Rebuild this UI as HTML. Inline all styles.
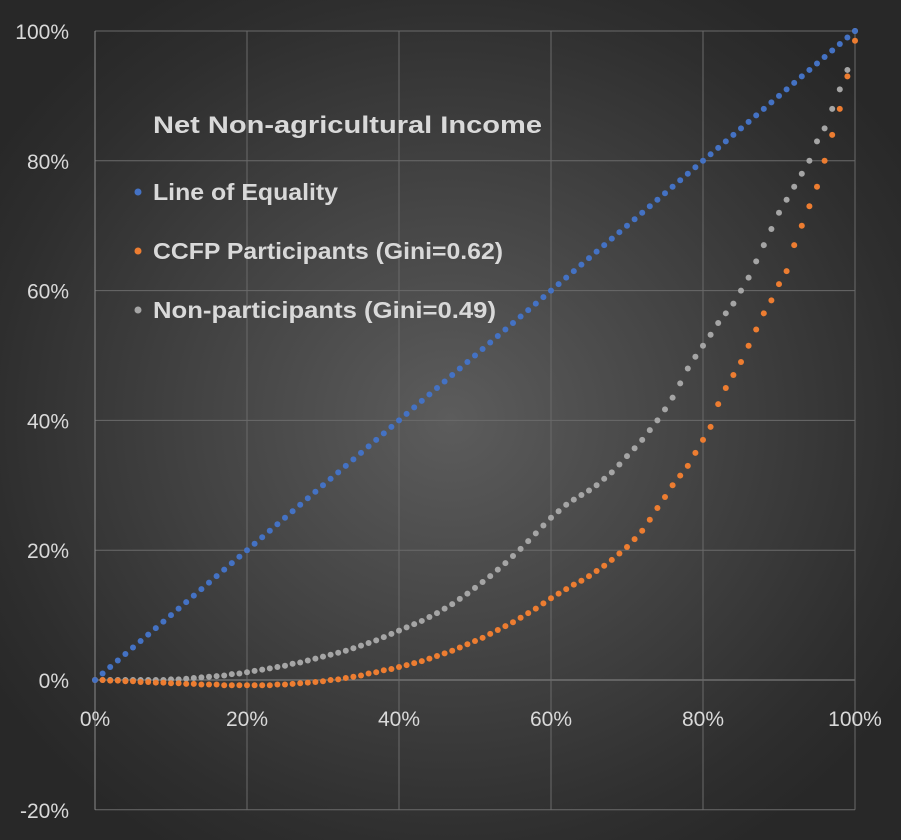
<!DOCTYPE html>
<html><head><meta charset="utf-8">
<style>
html,body{margin:0;padding:0;background:#2b2b2b;}
#wrap{width:901px;height:840px;position:relative;overflow:hidden;
background:radial-gradient(ellipse 60% 60% at 50% 50%,#5c5c5c 0%,#444 45%,#2e2e2e 85%,#282828 100%);}
svg{position:absolute;left:0;top:0;}
text{font-family:"Liberation Sans",sans-serif;fill:#d9d9d9;}
</style></head>
<body>
<div id="wrap">
<svg id="chart" width="901" height="840"></svg>
</div>
<script>
const xTicks=[0,20,40,60,80,100];
const xTickLabels=["0%","20%","40%","60%","80%","100%"];
const yTicks=[-20,0,20,40,60,80,100];
const yTickLabels=["-20%","0%","20%","40%","60%","80%","100%"];
const seriesNames=["Line of Equality","CCFP Participants (Gini=0.62)","Non-participants (Gini=0.49)"];
const eqX=[0,1,2,3,4,5,6,7,8,9,10,11,12,13,14,15,16,17,18,19,20,21,22,23,24,25,26,27,28,29,30,31,32,33,34,35,36,37,38,39,40,41,42,43,44,45,46,47,48,49,50,51,52,53,54,55,56,57,58,59,60,61,62,63,64,65,66,67,68,69,70,71,72,73,74,75,76,77,78,79,80,81,82,83,84,85,86,87,88,89,90,91,92,93,94,95,96,97,98,99,100];
const eqY=[0,1,2,3,4,5,6,7,8,9,10,11,12,13,14,15,16,17,18,19,20,21,22,23,24,25,26,27,28,29,30,31,32,33,34,35,36,37,38,39,40,41,42,43,44,45,46,47,48,49,50,51,52,53,54,55,56,57,58,59,60,61,62,63,64,65,66,67,68,69,70,71,72,73,74,75,76,77,78,79,80,81,82,83,84,85,86,87,88,89,90,91,92,93,94,95,96,97,98,99,100];
const ccfpX=[0,1,2,3,4,5,6,7,8,9,10,11,12,13,14,15,16,17,18,19,20,21,22,23,24,25,26,27,28,29,30,31,32,33,34,35,36,37,38,39,40,41,42,43,44,45,46,47,48,49,50,51,52,53,54,55,56,57,58,59,60,61,62,63,64,65,66,67,68,69,70,71,72,73,74,75,76,77,78,79,80,81,82,83,84,85,86,87,88,89,90,91,92,93,94,95,96,97,98,99,100];
const ccfpY=[0,0,-0.1,-0.1,-0.2,-0.2,-0.3,-0.3,-0.4,-0.4,-0.5,-0.5,-0.6,-0.6,-0.7,-0.7,-0.7,-0.8,-0.8,-0.8,-0.8,-0.8,-0.8,-0.8,-0.7,-0.7,-0.6,-0.5,-0.4,-0.3,-0.2,0,0.1,0.3,0.5,0.7,1,1.2,1.5,1.7,2,2.3,2.6,2.9,3.3,3.7,4.1,4.5,5,5.5,6,6.5,7.1,7.7,8.3,8.9,9.6,10.3,11,11.8,12.6,13.3,14,14.7,15.3,16,16.8,17.6,18.5,19.5,20.5,21.7,23,24.7,26.5,28.2,30,31.5,33,35,37,39,42.5,45,47,49,51.5,54,56.5,58.5,61,63,67,70,73,76,80,84,88,93,98.5];
const nonX=[0,1,2,3,4,5,6,7,8,9,10,11,12,13,14,15,16,17,18,19,20,21,22,23,24,25,26,27,28,29,30,31,32,33,34,35,36,37,38,39,40,41,42,43,44,45,46,47,48,49,50,51,52,53,54,55,56,57,58,59,60,61,62,63,64,65,66,67,68,69,70,71,72,73,74,75,76,77,78,79,80,81,82,83,84,85,86,87,88,89,90,91,92,93,94,95,96,97,98,99,100];
const nonY=[0,0,0,0,0,0,0,0,0,0,0.1,0.1,0.2,0.3,0.4,0.5,0.6,0.7,0.9,1,1.2,1.4,1.6,1.8,2,2.2,2.5,2.7,3,3.3,3.6,3.9,4.2,4.5,4.9,5.3,5.7,6.1,6.6,7.1,7.6,8.1,8.6,9.1,9.7,10.3,11,11.7,12.5,13.3,14.2,15.1,16,17,18,19.1,20.2,21.4,22.6,23.8,25,26,27,27.8,28.5,29.2,30,31,32,33.2,34.5,35.7,37,38.5,40,41.7,43.5,45.7,48,49.8,51.5,53.2,55,56.5,58,60,62,64.5,67,69.5,72,74,76,78,80,83,85,88,91,94,100];

const NS="http://www.w3.org/2000/svg";
const svg=document.getElementById('chart');
const X0=95,X1=855,Y100=31,Y0=680;
const sx=v=>X0+(X1-X0)*v/100;
const sy=v=>Y0-(Y0-Y100)*v/100;
function mk(tag,attrs){const e=document.createElementNS(NS,tag);for(const k in attrs)e.setAttribute(k,attrs[k]);svg.appendChild(e);return e;}

yTicks.forEach((t,i)=>{
  const l=mk('line',{x1:X0,x2:X1,y1:sy(t),y2:sy(t),stroke:t===0?'#8a8a8a':'#6a6a6a','stroke-width':1});
  
  
  const tx=mk('text',{x:69,y:sy(t)+8,'text-anchor':'end','font-size':21});
  tx.textContent=yTickLabels[i];
  
  
});
xTicks.forEach((t,i)=>{
  const l=mk('line',{x1:sx(t),x2:sx(t),y1:Y100,y2:sy(-20),stroke:t===0?'#8a8a8a':'#6a6a6a','stroke-width':1});
  
  
  const tx=mk('text',{x:sx(t),y:726,'text-anchor':'middle','font-size':21});
  tx.textContent=xTickLabels[i];
  
  
});

function series(xs,ys,color,name){
  xs.forEach((x,i)=>{
    const c=mk('circle',{cx:sx(x),cy:sy(ys[i]),r:3,fill:color});
    
    
  });
}
series(nonX,nonY,'#a5a5a5','non-participants-point');
series(ccfpX,ccfpY,'#ed7d31','ccfp-point');
series(eqX,eqY,'#4472c4','equality-point');

const title=mk('text',{x:153,y:133,'font-size':24,'font-weight':'bold',textLength:389,lengthAdjust:'spacingAndGlyphs'});
title.textContent='Net Non-agricultural Income';


const lcol=['#4472c4','#ed7d31','#a5a5a5'];
const ly=[192,251,310];
const lw=[185,350,343];
seriesNames.forEach((n,i)=>{
  const c=mk('circle',{cx:138,cy:ly[i],r:3.5,fill:lcol[i]});
  
  
  const t=mk('text',{x:153,y:ly[i]+8,'font-size':23,'font-weight':'bold',textLength:lw[i],lengthAdjust:'spacingAndGlyphs'});
  t.textContent=n;
  
  
});
</script>
</body></html>
